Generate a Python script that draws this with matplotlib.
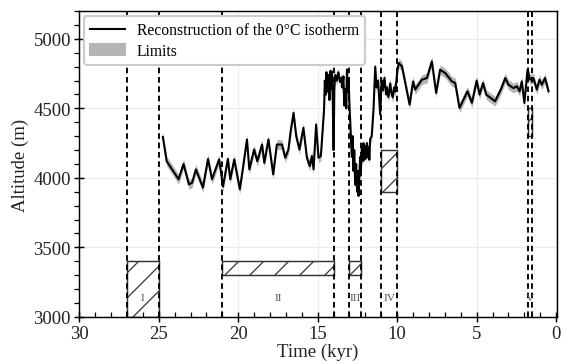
import matplotlib
matplotlib.use("Agg")
import matplotlib.pyplot as plt
from matplotlib.patches import Rectangle, Patch
from matplotlib.lines import Line2D
from matplotlib.ticker import MultipleLocator
import numpy as np

plt.rcParams['font.family'] = ['Liberation Serif', 'DejaVu Serif']
plt.rcParams['hatch.linewidth'] = 0.6

# reconstruction of the 0 degC isotherm (kyr BP, m)
time = [24.74, 24.5, 23.75, 23.44, 23.1, 22.9, 22.66, 22.22, 21.9, 21.65,
        21.2, 20.96, 20.65, 20.5, 20.25, 19.9, 19.7, 19.45, 19.3, 19.0,
        18.8, 18.5, 18.36, 18.1, 17.8, 17.57, 17.25, 17.04, 16.84, 16.7,
        16.52, 16.35, 16.15, 15.9, 15.68, 15.5, 15.37, 15.26, 15.1, 14.95,
        14.8, 14.6, 14.55, 14.5, 14.45, 14.38, 14.32, 14.26, 14.2, 14.15,
        14.1, 14.05, 14.0, 13.95, 13.9, 13.8, 13.7, 13.6, 13.5, 13.45,
        13.38, 13.33, 13.27, 13.2, 13.16, 13.1, 13.05, 13.0, 12.95, 12.9,
        12.85, 12.8, 12.75, 12.7, 12.64, 12.58, 12.52, 12.47, 12.43, 12.38,
        12.33, 12.28, 12.22, 12.17, 12.12, 12.07, 12.0, 11.95, 11.9, 11.85,
        11.8, 11.75, 11.7, 11.6, 11.49, 11.38, 11.3, 11.2, 11.07, 10.98,
        10.9, 10.8, 10.7, 10.65, 10.55, 10.44, 10.35, 10.27, 10.2, 10.13,
        10.05, 9.98, 9.9, 9.7, 9.22, 9.0, 8.87, 8.45, 8.13, 7.82,
        7.55, 7.3, 6.98, 6.56, 6.35, 6.08, 5.58, 5.3, 5.0, 4.82,
        4.6, 4.4, 4.26, 3.84, 3.48, 3.2, 3.0, 2.68, 2.47, 2.3,
        2.16, 2.0, 1.8, 1.64, 1.43, 1.22, 1.05, 0.9, 0.7, 0.48]
altitude = [4295, 4120, 3990, 4100, 3953, 3965, 4061, 3930, 4136, 3990,
            4133, 3937, 4136, 3990, 4133, 3918, 4073, 4276, 4061, 4204,
            4120, 4240, 4108, 4276, 4025, 4240, 4240, 4145, 4204, 4336,
            4467, 4300, 4204, 4360, 4145, 4085, 4157, 4061, 4384, 4145,
            4157, 4491, 4700, 4600, 4760, 4620, 4740, 4560, 4770, 4640,
            4765, 4550, 4200, 4650, 4740, 4700, 4760, 4690, 4720, 4650,
            4730, 4520, 4640, 4500, 4780, 4620, 4700, 4515, 4400, 4250,
            4150, 4300, 4050, 4200, 3950, 4100, 3900, 4050, 3870, 4000,
            4150, 4050, 4230, 4120, 4250, 4130, 4230, 4140, 4250, 4150,
            4220, 4130, 4280, 4300, 4491, 4800, 4650, 4700, 4455, 4700,
            4630, 4720, 4600, 4650, 4580, 4680, 4600, 4580, 4650, 4620,
            4700, 4780, 4826, 4802, 4527, 4694, 4635, 4706, 4718, 4838,
            4611, 4778, 4754, 4694, 4682, 4503, 4623, 4540, 4700, 4599,
            4682, 4599, 4587, 4551, 4635, 4718, 4670, 4646, 4659, 4623,
            4694, 4539, 4778, 4706, 4718, 4635, 4706, 4670, 4718, 4623]
half_width = 35  # approx. half width of the limits band (m)

# dashed boundaries (kyr)
vlines = [27, 25, 21, 14, 13, 12.3, 11, 10, 1.8, 1.5]
# hatched periods: (start, end, bottom, top)
box_x0 = [27, 21, 13, 11, 1.8]
box_x1 = [25, 14, 12.3, 10, 1.5]
box_y0 = [3000, 3300, 3300, 3900, 4300]
box_y1 = [3400, 3400, 3400, 4200, 4500]
labels = ['I', 'II', 'III', 'IV', 'V']

t = np.array(time)
a = np.array(altitude)

fig = plt.figure(figsize=(562 / 150, 365 / 150), dpi=150)
ax = fig.add_axes([0.141, 0.129, 0.850, 0.838])

ax.grid(True, color='#ebebeb', linewidth=0.5)
ax.set_axisbelow(True)

ax.fill_between(t, a - half_width, a + half_width, color='#b5b5b5', lw=0)
ax.plot(t, a, color='black', lw=1.0)

for x in vlines:
    ax.axvline(x, color='black', lw=0.9, ls=(0, (3, 2)))

for x0, x1, y0, y1, lab in zip(box_x0, box_x1, box_y0, box_y1, labels):
    ax.add_patch(Rectangle((x1, y0), x0 - x1, y1 - y0, facecolor='none',
                           edgecolor='#333333', lw=0.7, hatch='//'))
    ax.text((x0 + x1) / 2, 3140, lab, ha='center', va='center',
            fontsize=5.5, color='#555555')

ax.set_xlim(30, -0.05)
ax.set_ylim(3000, 5200)
ax.xaxis.set_major_locator(MultipleLocator(5))
ax.xaxis.set_minor_locator(MultipleLocator(1))
ax.yaxis.set_major_locator(MultipleLocator(500))
ax.yaxis.set_minor_locator(MultipleLocator(100))
ax.tick_params(which='major', direction='inout', length=5, width=0.7,
               labelsize=9, pad=1.5, labelcolor='#222222')
ax.tick_params(axis='x', which='minor', direction='in', length=2.5, width=0.6)
ax.tick_params(axis='y', which='minor', direction='out', length=2.5, width=0.6)
for s in ax.spines.values():
    s.set_linewidth(0.7)

ax.set_xlabel('Time (kyr)', fontsize=9, labelpad=0, color='#222222')
ax.set_ylabel('Altitude (m)', fontsize=9, labelpad=2, color='#222222')

handles = [Line2D([], [], color='black', lw=1.0),
           Patch(facecolor='#b5b5b5', edgecolor='#b5b5b5')]
ax.legend(handles, ['Reconstruction of the 0°C isotherm', 'Limits'],
          loc='upper left', fontsize=7.5, framealpha=1, edgecolor='#cccccc',
          borderaxespad=0.3, handlelength=2.2, labelspacing=0.3)

fig.savefig('out.png', dpi=150)
